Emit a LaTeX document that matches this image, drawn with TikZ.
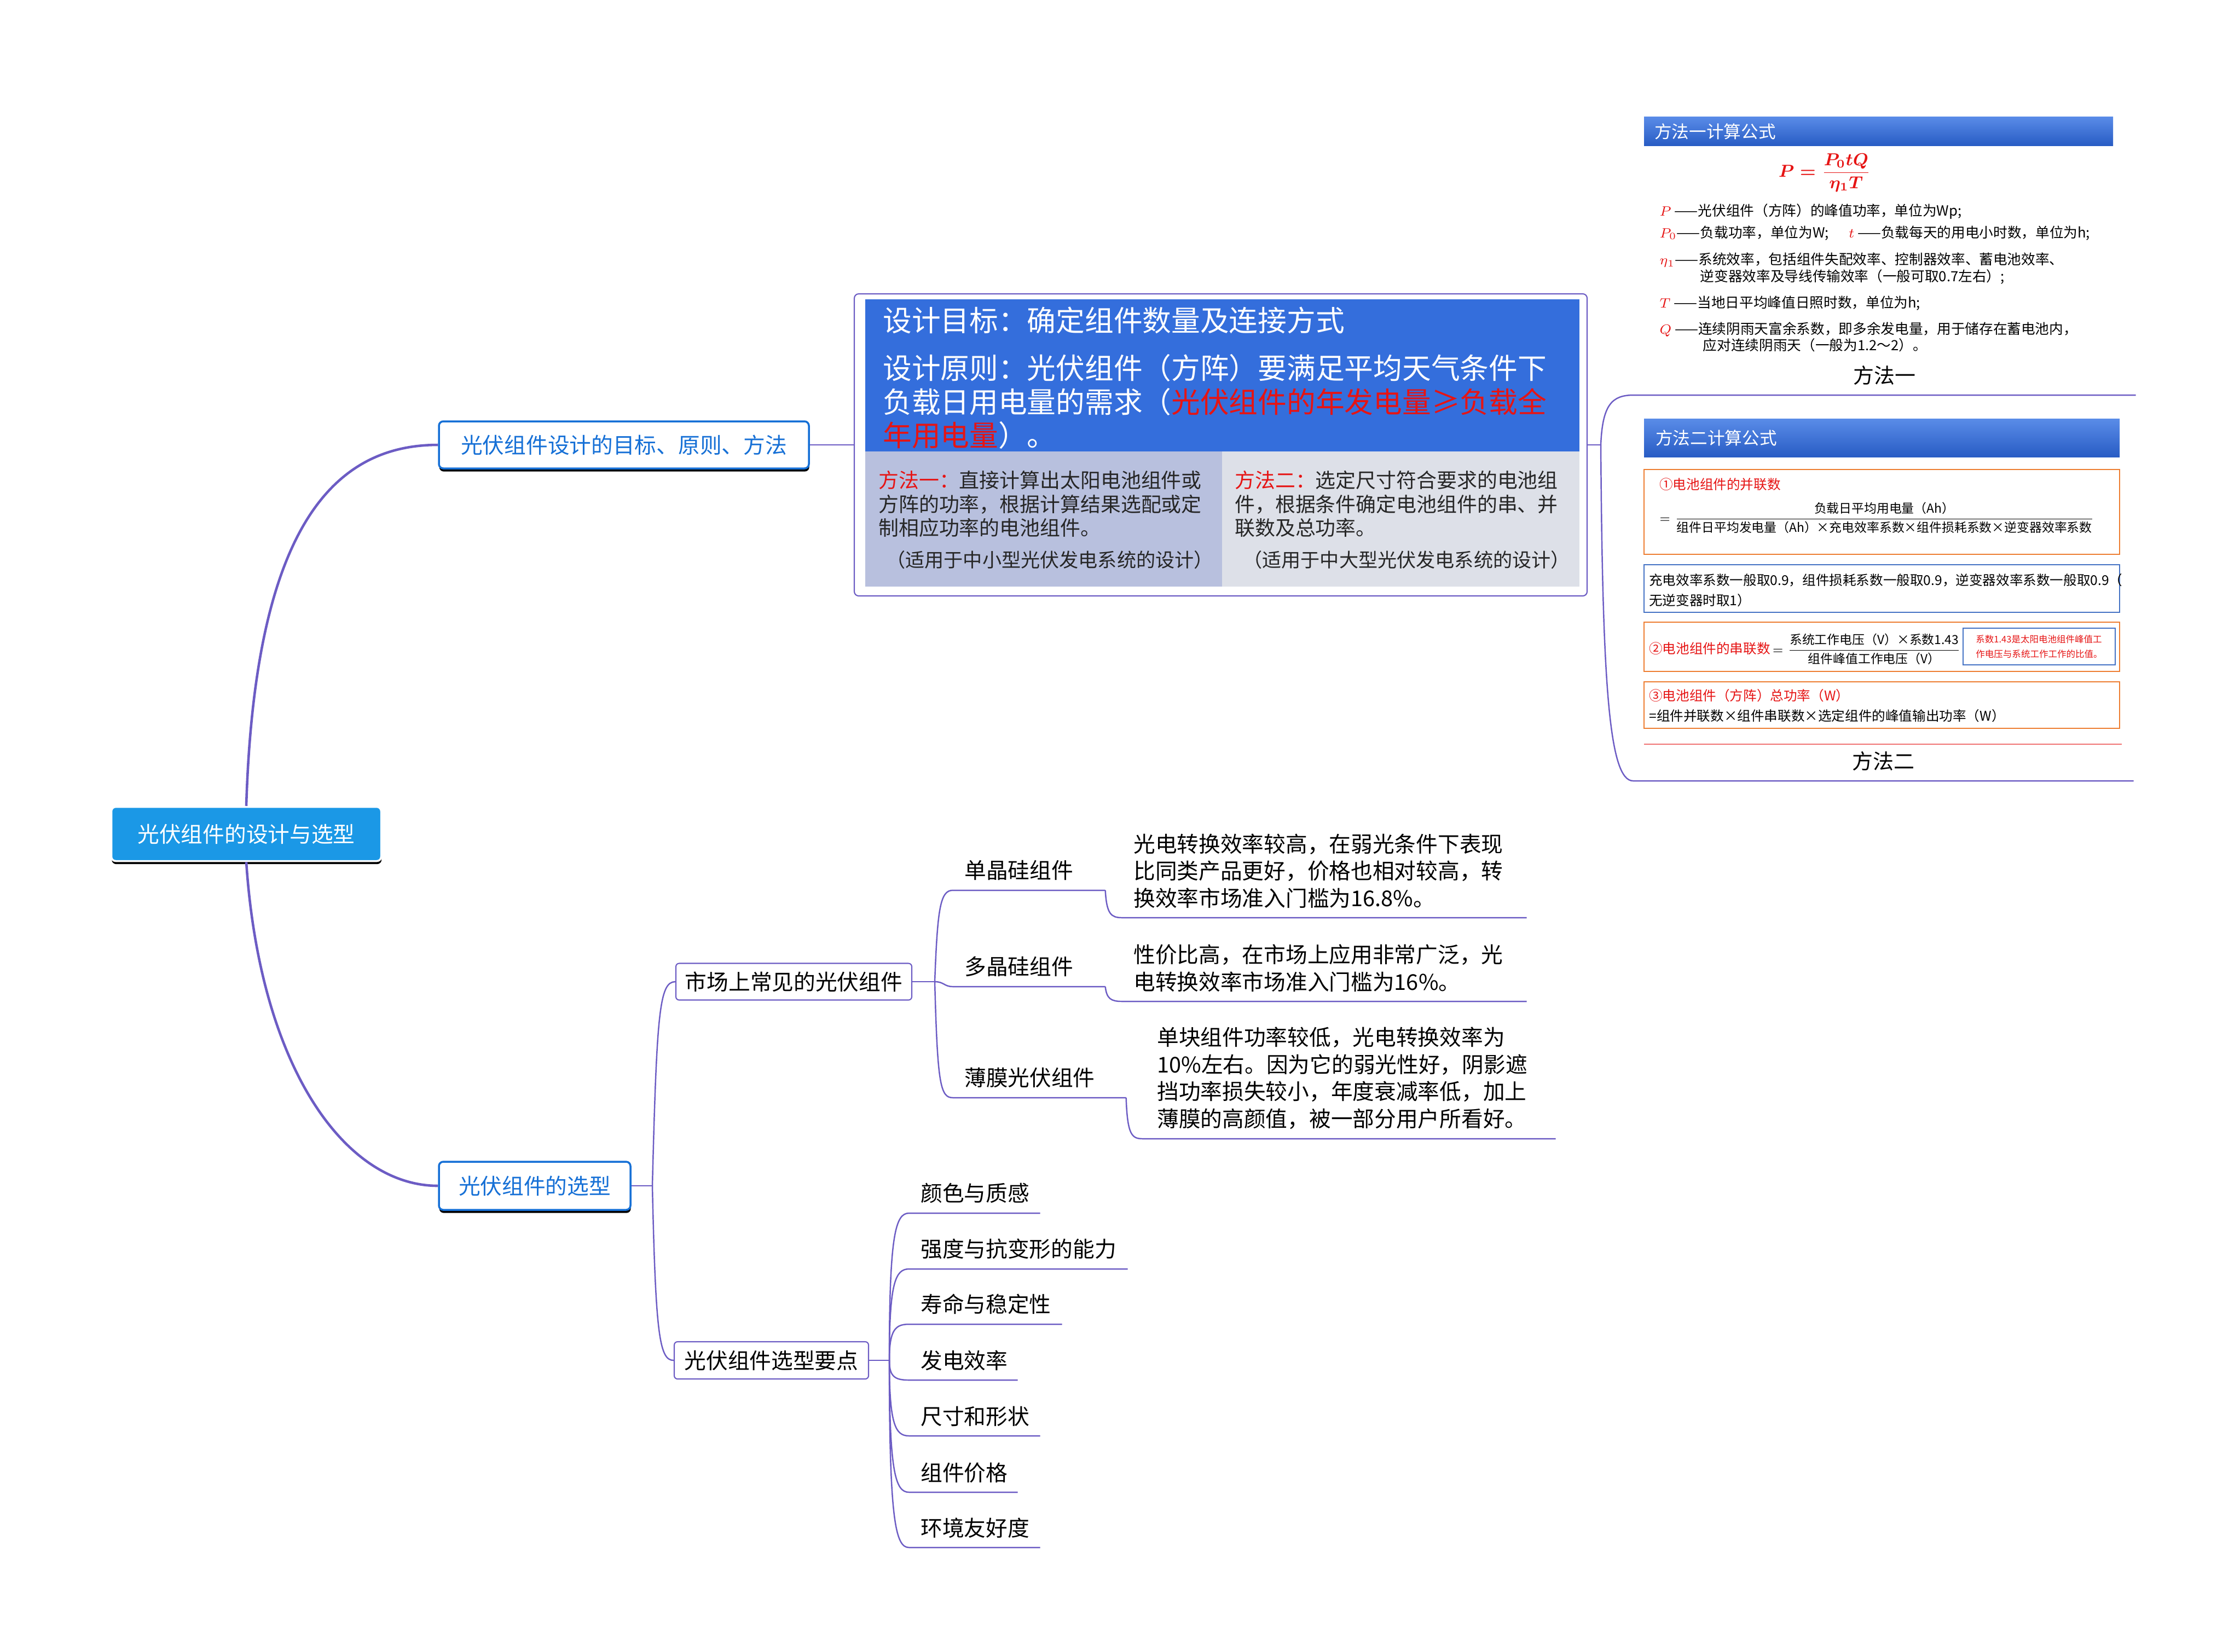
\documentclass[tikz,border=0pt]{standalone}
\usepackage{amsmath}
\usepackage{fontspec}
\setmainfont{Noto Sans CJK SC}
\usetikzlibrary{arrows.meta,positioning,calc,shadows}
\tikzset{every picture/.style={line width=0.75pt}}

\definecolor{linkpurple}{RGB}{108,92,196}
\definecolor{rootblue}{RGB}{27,152,230}
\definecolor{boxblue}{RGB}{22,112,214}
\definecolor{goalblue}{RGB}{52,110,220}
\definecolor{goallav}{RGB}{184,192,222}
\definecolor{goalgray}{RGB}{221,224,232}
\definecolor{hdrtop}{RGB}{90,140,232}
\definecolor{hdrbot}{RGB}{40,92,196}
\definecolor{frameorange}{RGB}{237,125,49}
\definecolor{frameblue}{RGB}{68,114,196}
\definecolor{textred}{RGB}{230,20,20}

\newcommand{\pvfont}{\fontsize{11.3}{14.1}\selectfont}
\newcommand{\goalbig}{\fontsize{15}{17.6}\selectfont}
\newcommand{\goalsmall}{\fontsize{10.5}{12.4}\selectfont}
\newcommand{\goalnote}{\fontsize{10}{12}\selectfont}
\newcommand{\calchead}{\fontsize{9}{11}\selectfont}
\newcommand{\calcdef}{\fontsize{7.3}{8.7}\selectfont}
\newcommand{\calcsmall}{\fontsize{7}{10.5}\selectfont}
\newcommand{\calcfrac}{\fontsize{6.5}{9}\selectfont}
\newcommand{\calctiny}{\fontsize{4.7}{7.7}\selectfont}
\newcommand{\methcap}{\fontsize{10.8}{13}\selectfont}
\newcommand{\redtxt}[1]{\textcolor{textred}{#1}}

\tikzset{
  mainlink/.style={draw=linkpurple, line width=1.3pt},
  thinlink/.style={draw=linkpurple, line width=0.7pt},
  rootbox/.style={rectangle, rounded corners=0.08cm, fill=rootblue, draw=white, line width=1pt,
    text=white, font=\pvfont, drop shadow={shadow xshift=0.2pt, shadow yshift=-1.6pt, fill=black, opacity=1}},
  topicbox/.style={rectangle, rounded corners=0.08cm, fill=white, draw=boxblue, line width=1pt,
    text=boxblue, font=\pvfont, drop shadow={shadow xshift=0.2pt, shadow yshift=-1.6pt, fill=black, opacity=1}},
  subbox/.style={rectangle, rounded corners=0.06cm, fill=white, draw=linkpurple, line width=0.6pt, font=\pvfont},
  leafpara/.style={anchor=south west, inner xsep=0.2cm, inner ysep=0.16cm, align=left, font=\pvfont},
  leaf/.style={leafpara, inner ysep=0.12cm, text depth=2.2pt},
  textnode/.style={inner sep=0pt, align=left},
  goalframe/.style={rectangle, rounded corners=0.08cm, fill=white, draw=linkpurple, line width=0.6pt},
  calcframe/.style={rectangle, minimum width=8.69cm, line width=0.7pt, inner sep=0pt},
  defline/.style={textnode, anchor=west, font=\calcdef},
}

\begin{document}
\begin{tikzpicture}
    % 画布范围
    \fill[white] (0,0) rectangle (40.93,-30.18);
    \useasboundingbox (0,0) rectangle (40.93,-30.18);

    % 中心主题
    \node[rootbox, minimum width=4.93cm, minimum height=0.99cm] (root) at (4.50,-15.24) {光伏组件的设计与选型};

    % 一级分支
    \node[topicbox, minimum width=6.76cm, minimum height=0.86cm] (design) at (11.40,-8.13) {光伏组件设计的目标、原则、方法};
    \node[topicbox, minimum width=3.50cm, minimum height=0.88cm] (select) at (9.77,-21.67) {光伏组件的选型};
    \draw[mainlink] (root.north) .. controls (4.65,-9.80) and (6.00,-8.13) .. (design.west);
    \draw[mainlink] (root.south) .. controls (4.75,-19.50) and (6.30,-21.67) .. (select.west);

    % 设计目标、原则与两种方法
    \node[goalframe, minimum width=13.39cm, minimum height=5.52cm] (goals) at (22.305,-8.13) {};
    \fill[goalblue] (15.81,-5.47) rectangle (28.86,-8.25);
    \fill[goallav] (15.81,-8.25) rectangle (22.33,-10.72);
    \fill[goalgray] (22.33,-8.25) rectangle (28.86,-10.72);
    \draw[thinlink] (design.east) -- (goals.west);

    \node[textnode, text=white, font=\goalbig, anchor=west] (aim) at (16.12,-5.85) {设计目标：确定组件数量及连接方式};
    \node[textnode, text=white, font=\goalbig, anchor=west] (principle) at (16.12,-7.34)
        {设计原则：光伏组件（方阵）要满足平均天气条件下\\负载日用电量的需求（\redtxt{光伏组件的年发电量≥负载全}\\\redtxt{年用电量}）。};
    \node[textnode, text=black!85, font=\goalsmall, anchor=west] (way1) at (16.04,-9.21)
        {\redtxt{方法一：}直接计算出太阳电池组件或\\方阵的功率，根据计算结果选配或定\\制相应功率的电池组件。};
    \node[textnode, text=black!85, font=\goalnote] (use1) at (19.18,-10.23) {（适用于中小型光伏发电系统的设计）};
    \node[textnode, text=black!85, font=\goalsmall, anchor=west] (way2) at (22.55,-9.21)
        {\redtxt{方法二：}选定尺寸符合要求的电池组\\件，根据条件确定电池组件的串、并\\联数及总功率。};
    \node[textnode, text=black!85, font=\goalnote] (use2) at (25.70,-10.23) {（适用于中大型光伏发电系统的设计）};

    % 方法一计算公式
    \shade[top color=hdrtop, bottom color=hdrbot] (30.04,-2.13) rectangle (38.61,-2.66);
    \node[textnode, text=white, font=\calchead, anchor=west] (head1) at (30.22,-2.40) {方法一计算公式};
    \node[text=textred, font=\calchead] (eq1) at (33.34,-3.16) {{\boldmath$P=\dfrac{P_0tQ}{\eta_1T}$}};
    \node[defline] (defP) at (30.31,-3.86) {\redtxt{$P$} ——光伏组件（方阵）的峰值功率，单位为Wp;};
    \node[defline] (defPo) at (30.31,-4.26) {\redtxt{$P_0$}——负载功率，单位为W;\hspace{1.4em}\redtxt{$t$} ——负载每天的用电小时数，单位为h;};
    \node[defline] (defEta) at (30.31,-4.905) {\redtxt{$\eta_1$}——系统效率，包括组件失配效率、控制器效率、蓄电池效率、\\\hspace*{2.9em}逆变器效率及导线传输效率（一般可取0.7左右）;};
    \node[defline] (defT) at (30.31,-5.54) {\redtxt{$T$} ——当地日平均峰值日照时数，单位为h;};
    \node[defline] (defQ) at (30.31,-6.16) {\redtxt{$Q$} ——连续阴雨天富余系数，即多余发电量，用于储存在蓄电池内，\\\hspace*{3.1em}应对连续阴雨天（一般为1.2～2）。};
    \node[leaf, font=\methcap, align=center, text width=8.75cm] (meth1) at (29.85,-7.22) {方法一};

    % 方法二计算公式
    \shade[top color=hdrtop, bottom color=hdrbot] (30.04,-7.65) rectangle (38.73,-8.35);
    \node[textnode, text=white, font=\calchead, anchor=west] (head2) at (30.24,-8.00) {方法二计算公式};
    \node[calcframe, draw=frameorange, minimum height=1.55cm] (parBox) at (34.385,-9.355) {};
    \node[textnode, text=textred, font=\calcsmall, anchor=west] (parT) at (30.31,-8.85) {①电池组件的并联数};
    \node[textnode, font=\calcfrac, anchor=west] (parF) at (30.31,-9.46)
        {$=\dfrac{\text{负载日平均用电量（Ah）}}{\text{组件日平均发电量（Ah）×充电效率系数×组件损耗系数×逆变器效率系数}}$};
    \node[calcframe, draw=frameblue, minimum height=0.87cm] (coefBox) at (34.385,-10.755) {};
    \node[textnode, font=\calcsmall, anchor=west] (coef) at (30.12,-10.79)
        {充电效率系数一般取0.9，组件损耗系数一般取0.9，逆变器效率系数一般取0.9（\\无逆变器时取1）};
    \node[calcframe, draw=frameorange, minimum height=0.90cm] (serBox) at (34.385,-11.82) {};
    \node[textnode, font=\calcsmall, anchor=west] (serF) at (30.12,-11.86)
        {\redtxt{②电池组件的串联数}\,{\calcfrac$=\dfrac{\text{系统工作电压（V）×系数1.43}}{\text{组件峰值工作电压（V）}}$}};
    \node[rectangle, draw=frameblue, line width=0.6pt, minimum width=2.78cm, minimum height=0.67cm, inner sep=0.05cm,
        text=textred, font=\calctiny, align=left] (note) at (37.26,-11.815) {系数1.43是太阳电池组件峰值工\\作电压与系统工作工作的比值。};
    \node[calcframe, draw=frameorange, minimum height=0.85cm] (totBox) at (34.385,-12.885) {};
    \node[textnode, font=\calcsmall, anchor=west] (tot) at (30.12,-12.90)
        {\redtxt{③电池组件（方阵）总功率（W）}\\=组件并联数×组件串联数×选定组件的峰值输出功率（W）};
    \draw[textred!60, line width=0.4pt] (30.04,-13.60) -- (38.77,-13.60);
    \node[leaf, font=\methcap, align=center, text width=8.72cm] (meth2) at (29.84,-14.27) {方法二};

    % 连接两种方法
    \coordinate (gj) at (29.25,-8.13);
    \draw[thinlink] (goals.east) -- (gj);
    \draw[thinlink] (gj) .. controls (29.28,-7.40) and (29.45,-7.22) .. (meth1.south west) -- (meth1.south east);
    \draw[thinlink] (gj) .. controls (29.28,-12.50) and (29.40,-14.27) .. (meth2.south west) -- (meth2.south east);

    % 选型分支
    \node[subbox, minimum width=4.31cm, minimum height=0.67cm] (market) at (14.505,-17.94) {市场上常见的光伏组件};
    \node[subbox, minimum width=3.55cm, minimum height=0.68cm] (points) at (14.095,-24.86) {光伏组件选型要点};
    \coordinate (bj) at (11.92,-21.67);
    \draw[thinlink] (select.east) -- (bj);
    \draw[thinlink] (bj) .. controls (12.00,-18.50) and (12.05,-17.94) .. (market.west);
    \draw[thinlink] (bj) .. controls (11.98,-24.40) and (12.05,-24.86) .. (points.west);

    % 常见组件
    \node[leaf, text width=2.36cm] (mono) at (17.41,-16.27) {单晶硅组件};
    \node[leaf, text width=2.36cm] (poly) at (17.41,-18.03) {多晶硅组件};
    \node[leaf, text width=2.74cm] (film) at (17.41,-20.06) {薄膜光伏组件};
    \node[leafpara, text width=6.97cm] (monoTxt) at (20.50,-16.77)
        {光电转换效率较高，在弱光条件下表现\\比同类产品更好，价格也相对较高，转\\换效率市场准入门槛为16.8\%。};
    \node[leafpara, text width=6.97cm] (polyTxt) at (20.50,-18.30)
        {性价比高，在市场上应用非常广泛，光\\电转换效率市场准入门槛为16\%。};
    \node[leafpara, text width=7.02cm, inner xsep=0.25cm] (filmTxt) at (20.88,-20.81)
        {单块组件功率较低，光电转换效率为\\10\%左右。因为它的弱光性好，阴影遮\\挡功率损失较小，年度衰减率低，加上\\薄膜的高颜值，被一部分用户所看好。};

    \coordinate (mj) at (17.08,-17.94);
    \draw[thinlink] (market.east) -- (mj);
    \draw[thinlink] (mj) .. controls (17.13,-16.60) and (17.18,-16.27) .. (mono.south west) -- (mono.south east);
    \draw[thinlink] (mj) .. controls (17.25,-17.94) and (17.25,-18.03) .. (poly.south west) -- (poly.south east);
    \draw[thinlink] (mj) .. controls (17.13,-19.80) and (17.18,-20.06) .. (film.south west) -- (film.south east);
    \draw[thinlink] (mono.south east) .. controls (20.22,-16.70) and (20.30,-16.77) .. (monoTxt.south west) -- (monoTxt.south east);
    \draw[thinlink] (poly.south east) .. controls (20.22,-18.25) and (20.30,-18.30) .. (polyTxt.south west) -- (polyTxt.south east);
    \draw[thinlink] (film.south east) .. controls (20.60,-20.74) and (20.68,-20.81) .. (filmTxt.south west) -- (filmTxt.south east);

    % 选型要点
    \coordinate (sj) at (16.25,-24.86);
    \draw[thinlink] (points.east) -- (sj);
    \foreach \nm/\yy/\tw/\txt in {s1/22.17/1.97/颜色与质感, s2/23.19/3.57/强度与抗变形的能力, s3/24.20/2.37/寿命与稳定性,
        s4/25.22/1.56/发电效率, s5/26.24/1.97/尺寸和形状, s6/27.27/1.56/组件价格, s7/28.28/1.97/环境友好度}{
      \node[leaf, text width=\tw cm] (\nm) at (16.61,-\yy) {\txt};
      \draw[thinlink] (sj) .. controls ($(sj)!0.85!(sj |- \nm.south west)$) and ($(\nm.south west)+(-0.25,0)$) .. (\nm.south west) -- (\nm.south east);
    }
\end{tikzpicture}
\end{document}
